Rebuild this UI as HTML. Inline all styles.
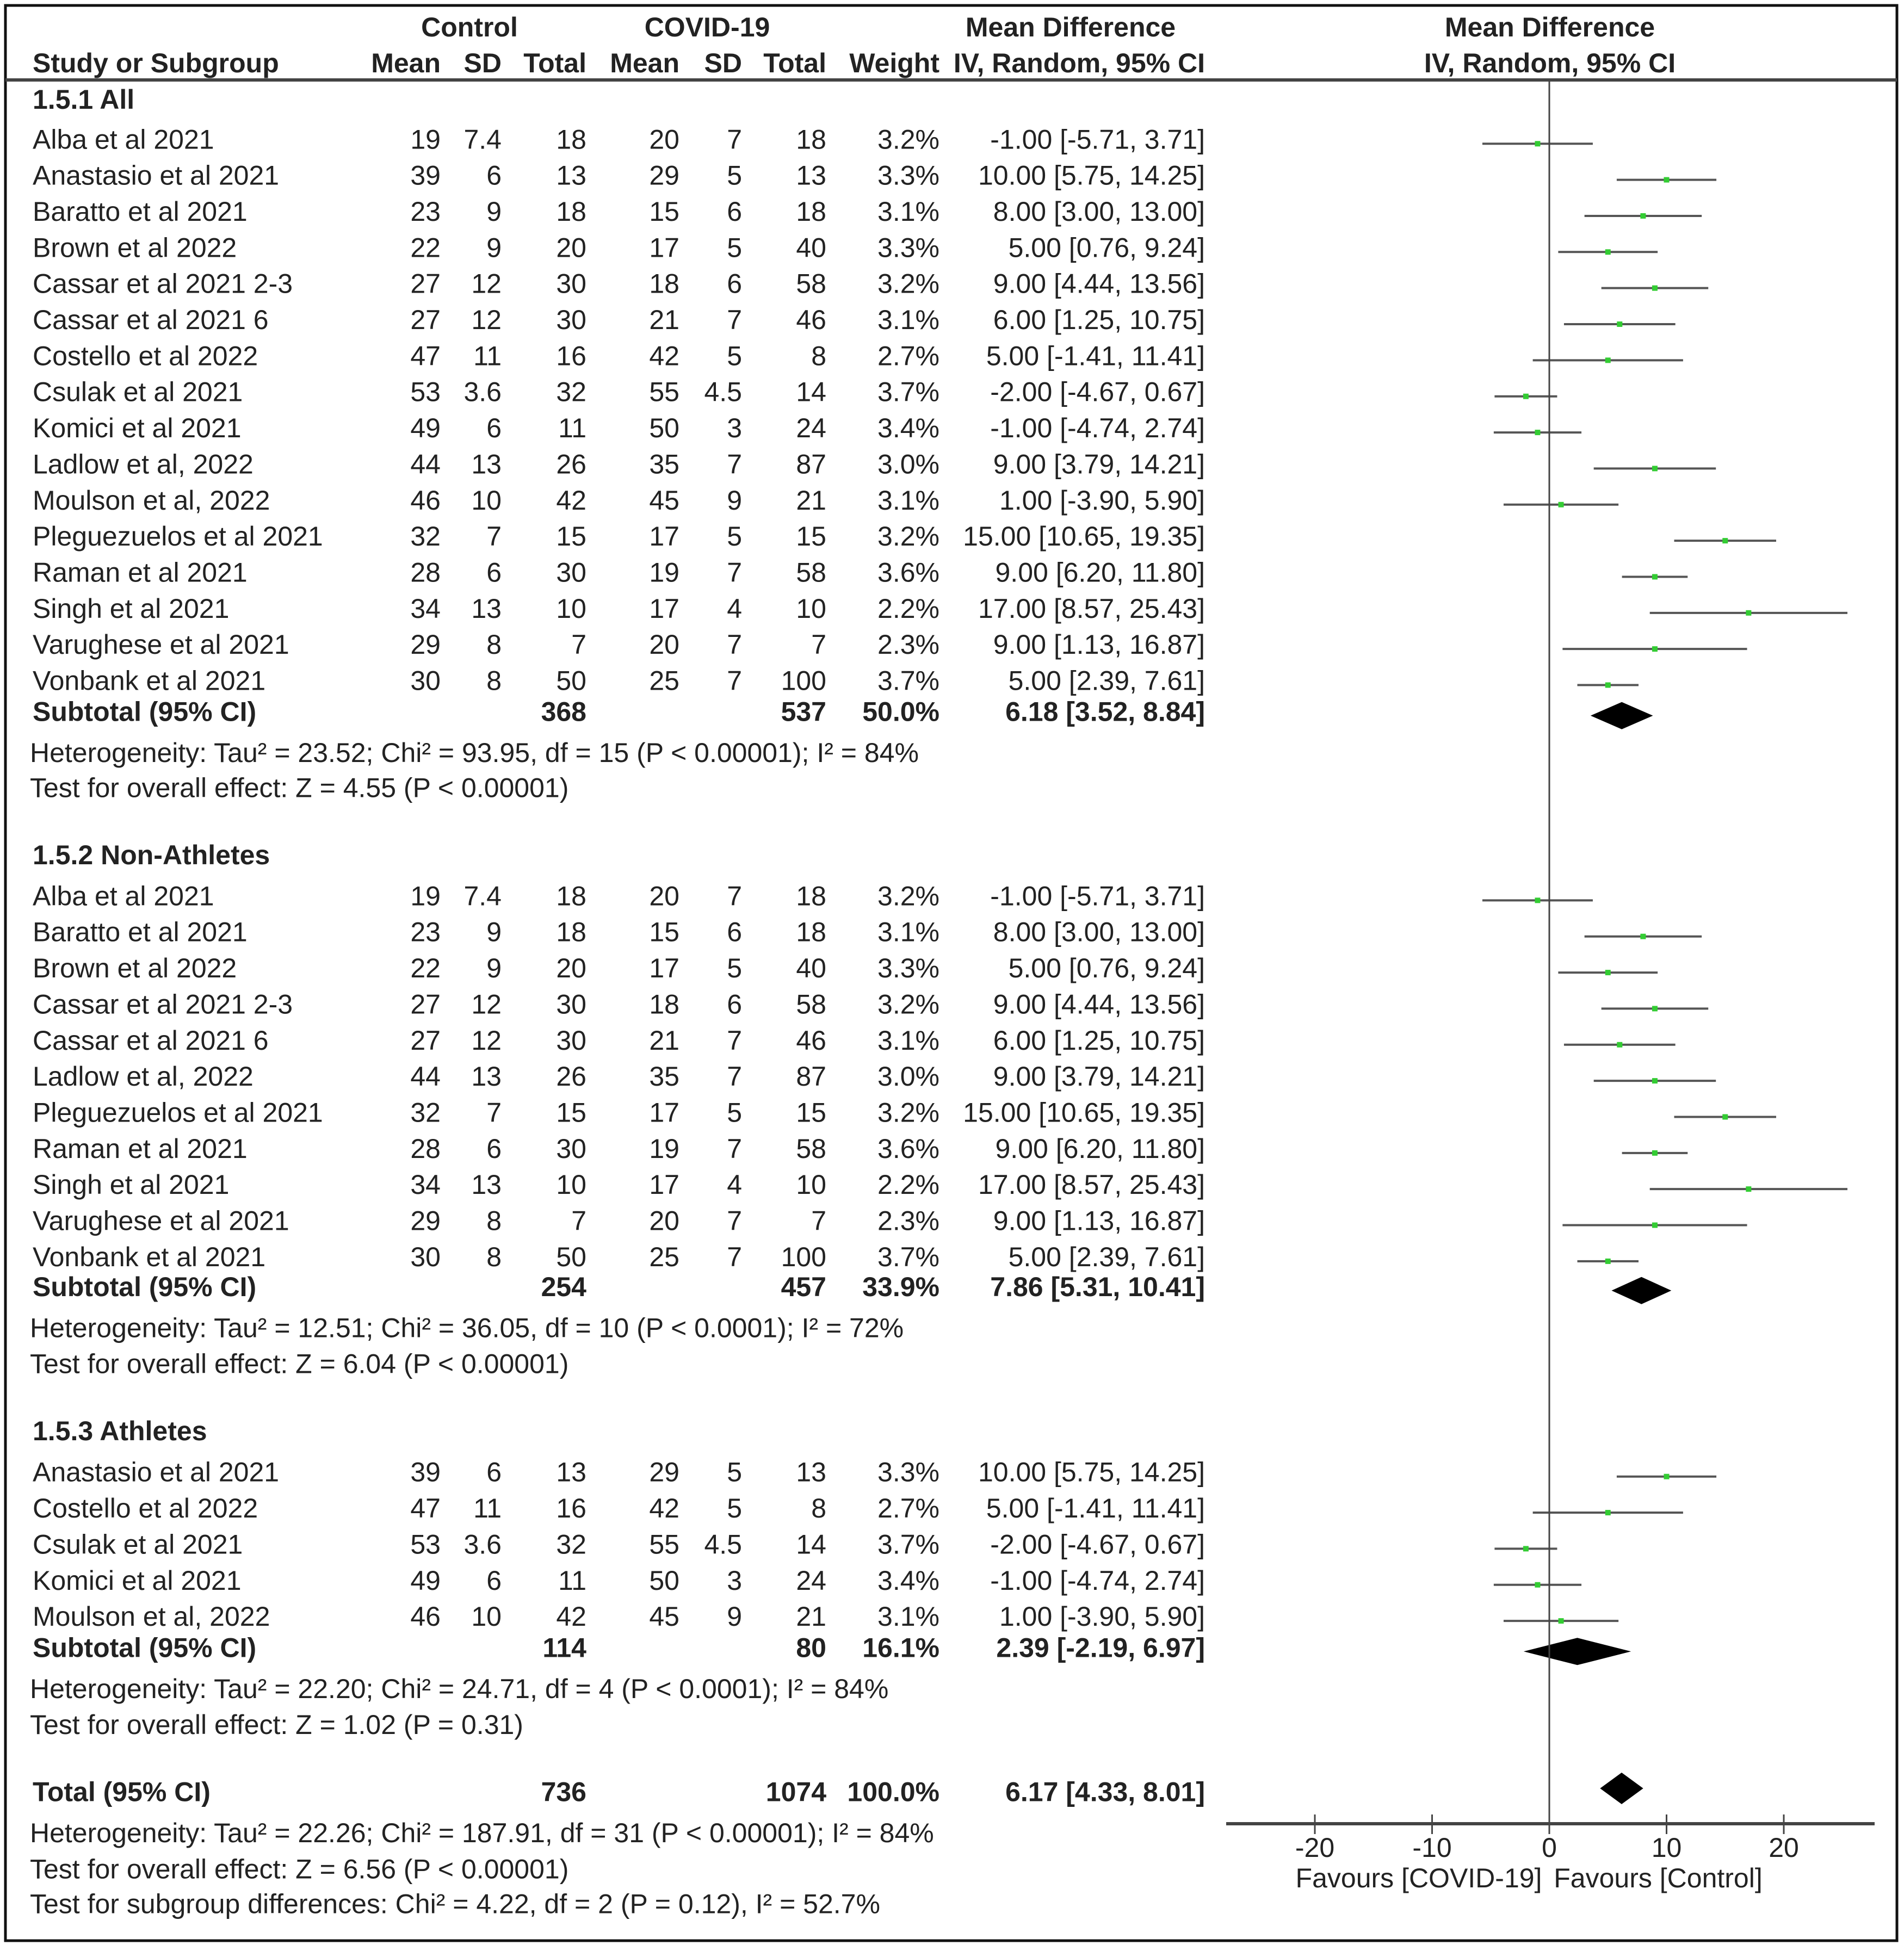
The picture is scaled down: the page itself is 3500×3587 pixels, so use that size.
<!DOCTYPE html>
<html><head><meta charset="utf-8">
<style>
html,body{margin:0;padding:0;background:#fff;}
svg text{font-family:"Liberation Sans",Arial,sans-serif;font-size:50px;fill:#222;}
svg text.b{font-weight:bold;}
</style></head>
<body>
<svg id="chart" width="3500" height="3582" viewBox="0 0 3500 3582" xmlns="http://www.w3.org/2000/svg">
<rect x="10" y="10" width="3477" height="3558" fill="none" stroke="#111" stroke-width="5"/>
<line x1="10" y1="147" x2="3487" y2="147" stroke="#444" stroke-width="6"/>
<g id="hdr"></g>
<g id="rows"></g>
<g id="plot"></g>
</svg>
<script>
const names1 = ["Alba et al 2021","Anastasio et al 2021","Baratto et al 2021","Brown et al 2022","Cassar et al 2021 2-3","Cassar et al 2021 6","Costello et al 2022","Csulak et al 2021","Komici et al 2021","Ladlow et al, 2022","Moulson et al, 2022","Pleguezuelos et al 2021","Raman et al 2021","Singh et al 2021","Varughese et al 2021","Vonbank et al 2021"];
const ctrlMean = [19,39,23,22,27,27,47,53,49,44,46,32,28,34,29,30];
const ctrlSD = ["7.4","6","9","9","12","12","11","3.6","6","13","10","7","6","13","8","8"];
const ctrlN = [18,13,18,20,30,30,16,32,11,26,42,15,30,10,7,50];
const covMean = [20,29,15,17,18,21,42,55,50,35,45,17,19,17,20,25];
const covSD = ["7","5","6","5","6","7","5","4.5","3","7","9","5","7","4","7","7"];
const covN = [18,13,18,40,58,46,8,14,24,87,21,15,58,10,7,100];
const weights = ["3.2%","3.3%","3.1%","3.3%","3.2%","3.1%","2.7%","3.7%","3.4%","3.0%","3.1%","3.2%","3.6%","2.2%","2.3%","3.7%"];
const md = [-1.00,10.00,8.00,5.00,9.00,6.00,5.00,-2.00,-1.00,9.00,1.00,15.00,9.00,17.00,9.00,5.00];
const lo = [-5.71,5.75,3.00,0.76,4.44,1.25,-1.41,-4.67,-4.74,3.79,-3.90,10.65,6.20,8.57,1.13,2.39];
const hi = [3.71,14.25,13.00,9.24,13.56,10.75,11.41,0.67,2.74,14.21,5.90,19.35,11.80,25.43,16.87,7.61];
const group2 = [0,2,3,4,5,9,11,12,13,14,15];
const group3 = [1,6,7,8,10];
const subTotals = [[368,537,"50.0%"],[254,457,"33.9%"],[114,80,"16.1%"]];
const subMD = [6.18,7.86,2.39];
const subLo = [3.52,5.31,-2.19];
const subHi = [8.84,10.41,6.97];
const totalMD = 6.17, totalLo = 4.33, totalHi = 8.01;
const ticks = [-20,-10,0,10,20];

const NS="http://www.w3.org/2000/svg";
const rowsG=document.getElementById('rows'), plotG=document.getElementById('plot'), hdrG=document.getElementById('hdr');
const X0=2848, PX=21.55;
function xs(v){return X0+v*PX;}
function mk(tag,attrs,parent){const e=document.createElementNS(NS,tag);for(const k in attrs)e.setAttribute(k,attrs[k]);parent.appendChild(e);return e;}
function txt(s,x,y,anchor,bold,parent,name){const t=mk('text',{x:x,y:y+17,'text-anchor':anchor||'start'},parent);if(bold)t.setAttribute('class','b');t.textContent=s;


return t;}
const cols=[810,922,1078,1249,1364,1519,1727,2215];
const f2=v=>v.toFixed(2);

txt("Control",863,50,'middle',true,hdrG,'control-header');
txt("COVID-19",1300,50,'middle',true,hdrG,'covid-header');
txt("Mean Difference",1968,50,'middle',true,hdrG,'md-header');
txt("Mean Difference",2849,50,'middle',true,hdrG,'plot-header');
txt("Study or Subgroup",60,116,'start',true,hdrG,'study-header');
["Mean","SD","Total","Mean","SD","Total","Weight","IV, Random, 95% CI"].forEach((s,i)=>txt(s,cols[i],116,'end',true,hdrG,'column-header'));
txt("IV, Random, 95% CI",2849,116,'middle',true,hdrG,'plot-subheader');

function studyRow(i,y){
  txt(names1[i],60,y,'start',false,rowsG,'study-name');
  [ctrlMean[i],ctrlSD[i],ctrlN[i],covMean[i],covSD[i],covN[i],weights[i],f2(md[i])+" ["+f2(lo[i])+", "+f2(hi[i])+"]"].forEach((s,k)=>txt(String(s),cols[k],y,'end',false,rowsG,'cell'));
  const l=mk('line',{x1:xs(lo[i]),x2:xs(hi[i]),y1:y+8,y2:y+8,stroke:'#555','stroke-width':4},plotG);
  
  
  const s=mk('rect',{x:xs(md[i])-5,y:y+3,width:10,height:10,fill:'#33cc33'},plotG);
  
  
}
function diamond(m,l,h,y,hh,name){
  const p=mk('polygon',{points:`${xs(l)},${y} ${xs(m)},${y-hh} ${xs(h)},${y} ${xs(m)},${y+hh}`,fill:'#000'},plotG);
  
  
}
function subtotal(g,y,label){
  txt(label,60,y,'start',true,rowsG,'subtotal-label');
  const st=subTotals[g];
  txt(String(st[0]),cols[2],y,'end',true,rowsG,'cell');
  txt(String(st[1]),cols[5],y,'end',true,rowsG,'cell');
  txt(st[2],cols[6],y,'end',true,rowsG,'cell');
  txt(f2(subMD[g])+" ["+f2(subLo[g])+", "+f2(subHi[g])+"]",cols[7],y,'end',true,rowsG,'cell');
  diamond(subMD[g],subLo[g],subHi[g],y+7,25,'subtotal-diamond');
}
const S=2.288;
txt("1.5.1 All",60,183,'start',true,rowsG,'group-heading');
names1.forEach((n,i)=>studyRow(i,(112+29*i)*S));
subtotal(0,572*S,"Subtotal (95% CI)");
txt("Heterogeneity: Tau² = 23.52; Chi² = 93.95, df = 15 (P < 0.00001); I² = 84%",55,605*S,'start',false,rowsG,'heterogeneity');
txt("Test for overall effect: Z = 4.55 (P < 0.00001)",55,633*S,'start',false,rowsG,'overall-effect');
txt("1.5.2 Non-Athletes",60,687*S,'start',true,rowsG,'group-heading');
group2.forEach((i,k)=>studyRow(i,(720+29*k)*S));
subtotal(1,1034*S,"Subtotal (95% CI)");
txt("Heterogeneity: Tau² = 12.51; Chi² = 36.05, df = 10 (P < 0.0001); I² = 72%",55,1067*S,'start',false,rowsG,'heterogeneity');
txt("Test for overall effect: Z = 6.04 (P < 0.00001)",55,1096*S,'start',false,rowsG,'overall-effect');
txt("1.5.3 Athletes",60,1150*S,'start',true,rowsG,'group-heading');
group3.forEach((i,k)=>studyRow(i,(1183+29*k)*S));
subtotal(2,1324*S,"Subtotal (95% CI)");
txt("Heterogeneity: Tau² = 22.20; Chi² = 24.71, df = 4 (P < 0.0001); I² = 84%",55,1357*S,'start',false,rowsG,'heterogeneity');
txt("Test for overall effect: Z = 1.02 (P = 0.31)",55,1386*S,'start',false,rowsG,'overall-effect');
const ty=1440*S;
txt("Total (95% CI)",60,ty,'start',true,rowsG,'total-label');
txt("736",cols[2],ty,'end',true,rowsG,'cell');
txt("1074",cols[5],ty,'end',true,rowsG,'cell');
txt("100.0%",cols[6],ty,'end',true,rowsG,'cell');
txt(f2(totalMD)+" ["+f2(totalLo)+", "+f2(totalHi)+"]",cols[7],ty,'end',true,rowsG,'cell');
diamond(totalMD,totalLo,totalHi,3288,29,'total-diamond');
txt("Heterogeneity: Tau² = 22.26; Chi² = 187.91, df = 31 (P < 0.00001); I² = 84%",55,1473*S,'start',false,rowsG,'heterogeneity');
txt("Test for overall effect: Z = 6.56 (P < 0.00001)",55,1502*S,'start',false,rowsG,'overall-effect');
txt("Test for subgroup differences: Chi² = 4.22, df = 2 (P = 0.12), I² = 52.7%",55,1530*S,'start',false,rowsG,'subgroup-test');

const zl=mk('line',{x1:xs(0),x2:xs(0),y1:147,y2:3353,stroke:'#444','stroke-width':3},plotG);


const ax=mk('line',{x1:2254,x2:3446,y1:3353,y2:3353,stroke:'#444','stroke-width':6},plotG);


ticks.forEach(t=>{
  const tl=mk('line',{x1:xs(t),x2:xs(t),y1:3336,y2:3372,stroke:'#444','stroke-width':3},plotG);
  
  
  txt(String(t),xs(t),3397,'middle',false,plotG,'x-tick-label');
});
txt("Favours [COVID-19]",2608,3453,'middle',false,plotG,'favours-covid');
txt("Favours [Control]",3048,3453,'middle',false,plotG,'favours-control');
</script>
</body></html>
